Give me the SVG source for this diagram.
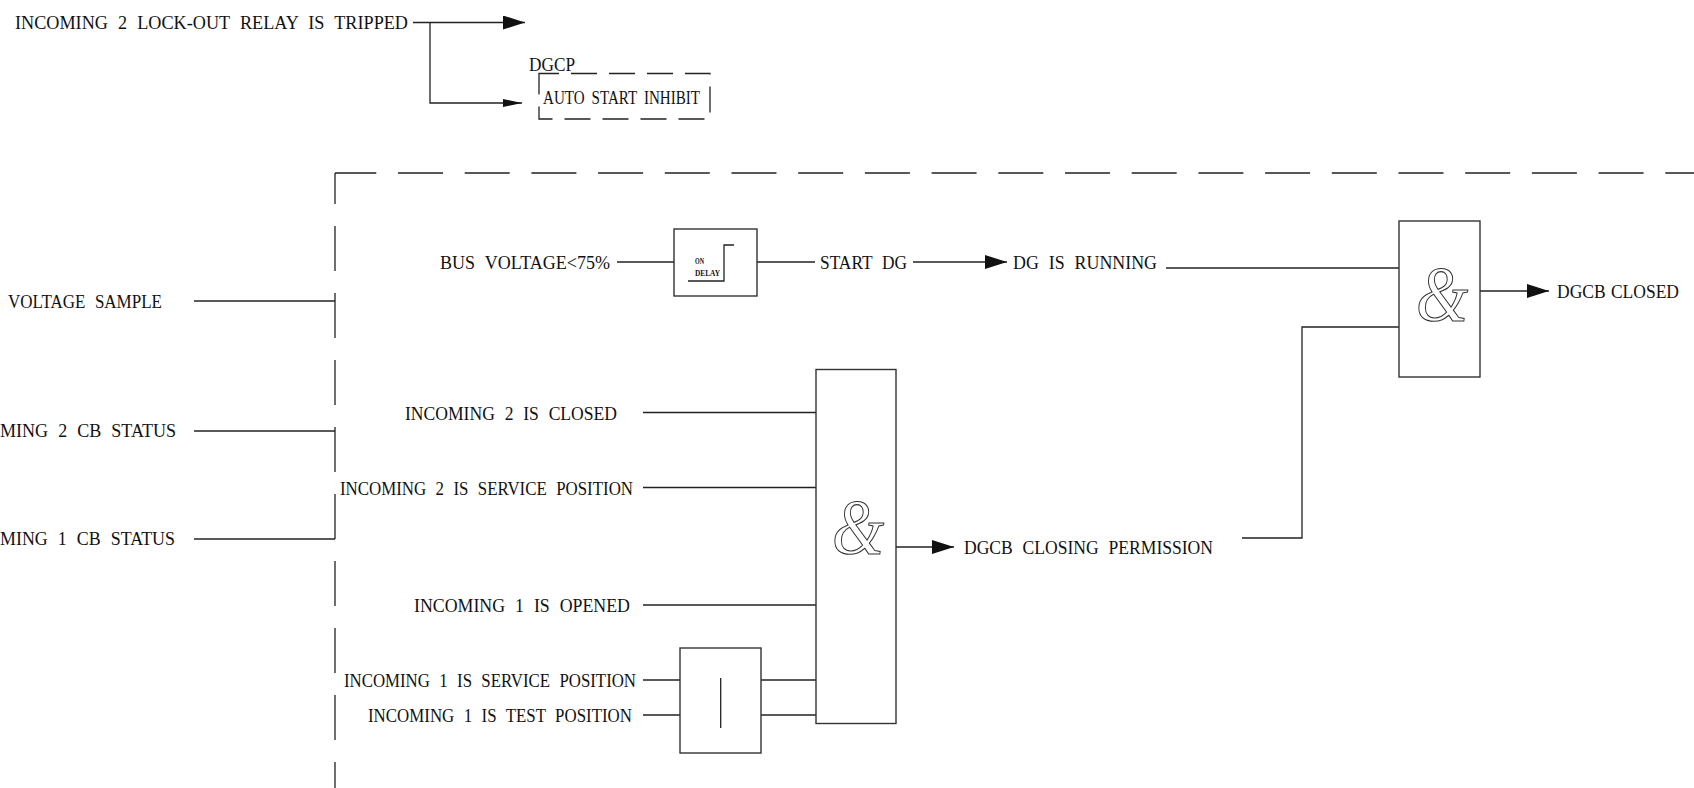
<svg xmlns="http://www.w3.org/2000/svg" width="1694" height="788" viewBox="0 0 1694 788">
<defs>
<style>
.t{font-family:"Liberation Serif","Times New Roman",serif;font-size:19.5px;word-spacing:6px;fill:#111}
.s{font-family:"Liberation Serif","Times New Roman",serif;font-size:18.5px;word-spacing:4px;fill:#111}
.tiny{font-family:"Liberation Serif","Times New Roman",serif;font-size:9px;font-weight:bold;fill:#111}
.amp{font-family:"Liberation Serif","Times New Roman",serif;font-style:italic;font-size:78px;fill:none;stroke:#333;stroke-width:1.1}
.ln{fill:none;stroke:#222;stroke-width:1.3}
.box{fill:#fff;stroke:#333;stroke-width:1.4}
.dash{fill:none;stroke:#222;stroke-width:1.3}
</style>
<marker id="arr" markerUnits="userSpaceOnUse" markerWidth="24" markerHeight="14" refX="22" refY="7" orient="auto">
<path d="M0,0 L22,7 L0,14 Z" fill="#111"/>
</marker>
<marker id="arrs" markerUnits="userSpaceOnUse" markerWidth="20" markerHeight="10" refX="19" refY="4" orient="auto">
<path d="M0,0 L19,4 L0,8 Z" fill="#111"/>
</marker>
</defs>
<rect width="1694" height="788" fill="#fff"/>

<g id="connectors">
<path class="ln" d="M413,22.5 H525" marker-end="url(#arr)"/>
<path class="ln" d="M430,22.5 V103 H522" marker-end="url(#arrs)"/>
<path class="ln" d="M194,301 H335"/>
<path class="ln" d="M194,431 H335"/>
<path class="ln" d="M194,539 H335"/>
<path class="ln" d="M617,262 H674"/>
<path class="ln" d="M757,262 H815"/>
<path class="ln" d="M913,262 H1007" marker-end="url(#arr)"/>
<path class="ln" d="M1166,268 H1399"/>
<path class="ln" d="M1242,538 H1302 V327 H1399"/>
<path class="ln" d="M1480,291 H1549" marker-end="url(#arr)"/>
<path class="ln" d="M643,412.5 H816"/>
<path class="ln" d="M643,487.5 H816"/>
<path class="ln" d="M643,605 H816"/>
<path class="ln" d="M643,680 H680"/>
<path class="ln" d="M643,715 H680"/>
<path class="ln" d="M761,680 H816"/>
<path class="ln" d="M761,715 H816"/>
<path class="ln" d="M896,547 H954" marker-end="url(#arr)"/>
</g>

<g id="boundary">
<path class="dash" d="M335,173 H1694" stroke-dasharray="45 21.7" stroke-dashoffset="3.7"/>
<path class="dash" d="M335,173 V788" stroke-dasharray="45 22" stroke-dashoffset="14"/>
</g>

<g id="lockout">
<text class="t" x="15" y="29" textLength="393" lengthAdjust="spacingAndGlyphs">INCOMING 2 LOCK-OUT RELAY IS TRIPPED</text>
</g>

<g id="dgcp">
<rect x="539" y="73.5" width="171" height="45.5" fill="none" stroke="#222" stroke-width="1.3" stroke-dasharray="26 12" stroke-dashoffset="6"/>
<text class="t" x="529" y="70.5" textLength="46" lengthAdjust="spacingAndGlyphs">DGCP</text>
<text class="s" x="543" y="103.5" textLength="157" lengthAdjust="spacingAndGlyphs">AUTO START INHIBIT</text>
</g>

<g id="in-voltage">
<text class="t" x="8" y="308" textLength="154" lengthAdjust="spacingAndGlyphs">VOLTAGE SAMPLE</text>
</g>
<g id="in-cb2">
<text class="t" x="0" y="437" textLength="176" lengthAdjust="spacingAndGlyphs">MING 2 CB STATUS</text>
</g>
<g id="in-cb1">
<text class="t" x="0" y="545" textLength="175" lengthAdjust="spacingAndGlyphs">MING 1 CB STATUS</text>
</g>

<g id="bus-voltage">
<text class="t" x="440" y="269" textLength="170" lengthAdjust="spacingAndGlyphs">BUS VOLTAGE&lt;75%</text>
</g>

<g id="on-delay">
<rect class="box" x="674" y="229" width="83" height="67"/>
<path class="ln" d="M688,281 H724 V245 H734" stroke-width="1.2"/>
<text class="tiny" x="695" y="264" textLength="9" lengthAdjust="spacingAndGlyphs">ON</text>
<text class="tiny" x="695" y="276" textLength="25" lengthAdjust="spacingAndGlyphs">DELAY</text>
</g>

<g id="start-dg">
<text class="t" x="820" y="269" textLength="87" lengthAdjust="spacingAndGlyphs">START DG</text>
</g>
<g id="dg-running">
<text class="t" x="1013" y="269" textLength="144" lengthAdjust="spacingAndGlyphs">DG IS RUNNING</text>
</g>

<g id="and2">
<rect class="box" x="1399" y="221" width="81" height="156"/>
<text class="amp" transform="translate(1442,320) scale(0.86,1)" x="0" y="0" text-anchor="middle">&amp;</text>
</g>
<g id="dgcb-closed">
<text class="t" x="1557" y="298" textLength="122" lengthAdjust="spacingAndGlyphs" style="word-spacing:1px">DGCB CLOSED</text>
</g>

<g id="in2-closed">
<text class="t" x="405" y="420" textLength="212" lengthAdjust="spacingAndGlyphs">INCOMING 2 IS CLOSED</text>
</g>
<g id="in2-service">
<text class="t" x="340" y="495" textLength="293" lengthAdjust="spacingAndGlyphs">INCOMING 2 IS SERVICE POSITION</text>
</g>
<g id="in1-opened">
<text class="t" x="414" y="612" textLength="216" lengthAdjust="spacingAndGlyphs">INCOMING 1 IS OPENED</text>
</g>
<g id="in1-service">
<text class="t" x="344" y="687" textLength="292" lengthAdjust="spacingAndGlyphs">INCOMING 1 IS SERVICE POSITION</text>
</g>
<g id="in1-test">
<text class="t" x="368" y="722" textLength="264" lengthAdjust="spacingAndGlyphs">INCOMING 1 IS TEST POSITION</text>
</g>

<g id="or1">
<rect class="box" x="680" y="648" width="81" height="105"/>
<path class="ln" d="M720.7,678 V728"/>
</g>

<g id="and1">
<rect class="box" x="816" y="369.5" width="80" height="354"/>
<text class="amp" transform="translate(858,553) scale(0.86,1)" x="0" y="0" text-anchor="middle">&amp;</text>
</g>

<g id="closing-permission">
<text class="t" x="964" y="554" textLength="249" lengthAdjust="spacingAndGlyphs">DGCB CLOSING PERMISSION</text>
</g>
</svg>
